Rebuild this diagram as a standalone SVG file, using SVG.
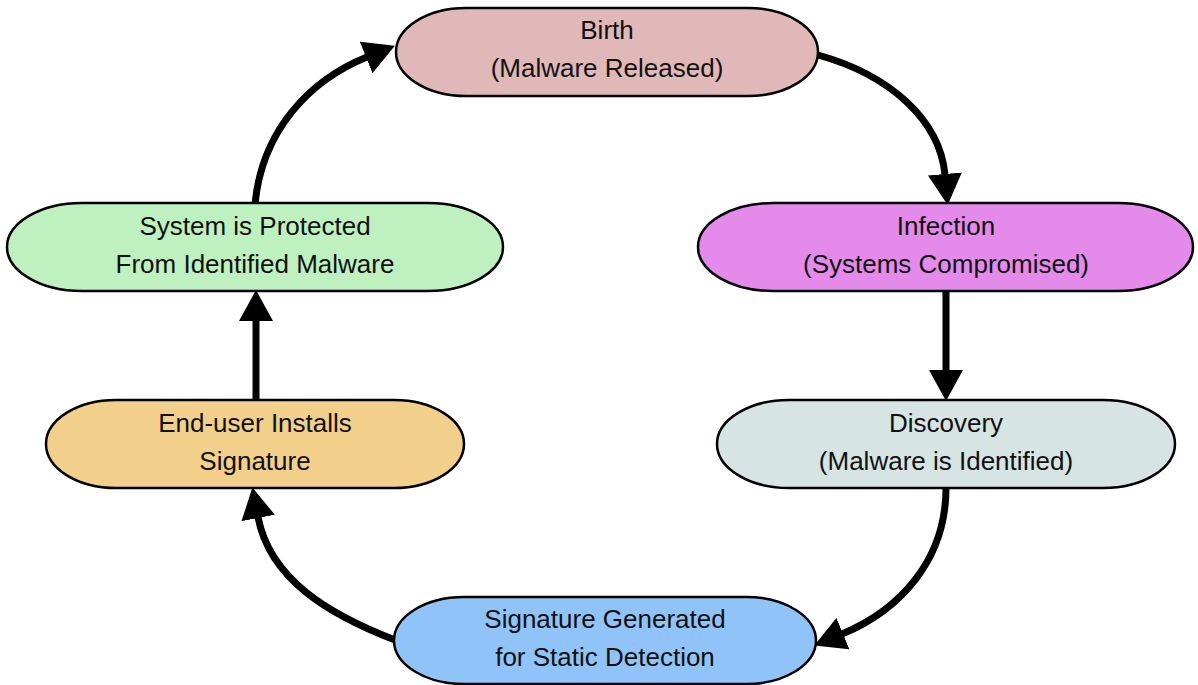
<svg xmlns="http://www.w3.org/2000/svg" width="1198" height="685" viewBox="0 0 1198 685">
<style>
.node{stroke:#000;stroke-width:2.5}
.lbl{font-family:"Liberation Sans",Arial,sans-serif;font-size:26px;fill:#111;text-anchor:middle}
.edge{fill:none;stroke:#000;stroke-width:7}
</style>
<defs>
<marker id="ah" markerUnits="userSpaceOnUse" markerWidth="34" markerHeight="36" refX="1" refY="17" orient="auto">
<path d="M0,0 L31,17 L0,34 z" fill="#000"/>
</marker>
</defs>
<rect width="1198" height="685" fill="#fff"/>
<g id="connectors">
<path class="edge" d="M818,55 C890,75 940,120 945,175" marker-end="url(#ah)"/>
<path class="edge" d="M946,292 L946,371" marker-end="url(#ah)"/>
<path class="edge" d="M946,488 C946,560 900,610 842,634" marker-end="url(#ah)"/>
<path class="edge" d="M395,640 C330,615 270,580 258,517" marker-end="url(#ah)"/>
<path class="edge" d="M256,400 L256,320" marker-end="url(#ah)"/>
<path class="edge" d="M255,204 C262,130 310,80 367,57" marker-end="url(#ah)"/>
</g>
<g id="birth">
<rect class="node" x="396" y="8" width="422" height="88" rx="70" ry="44" fill="#e0b8b8"/>
<text class="lbl" x="607" y="39">Birth</text>
<text class="lbl" x="607" y="77">(Malware Released)</text>
</g>
<g id="infection">
<rect class="node" x="698" y="203" width="495" height="88" rx="75" ry="44" fill="#e48aeb"/>
<text class="lbl" x="946" y="235">Infection</text>
<text class="lbl" x="946" y="273">(Systems Compromised)</text>
</g>
<g id="discovery">
<rect class="node" x="717" y="400" width="458" height="88" rx="72" ry="44" fill="#d6e4e4"/>
<text class="lbl" x="946" y="432">Discovery</text>
<text class="lbl" x="946" y="470">(Malware is Identified)</text>
</g>
<g id="signature">
<rect class="node" x="394" y="597" width="422" height="87" rx="70" ry="44" fill="#90c4f8"/>
<text class="lbl" x="605" y="628">Signature Generated</text>
<text class="lbl" x="605" y="666">for Static Detection</text>
</g>
<g id="enduser">
<rect class="node" x="46" y="400" width="418" height="88" rx="70" ry="44" fill="#f3cf8c"/>
<text class="lbl" x="255" y="432">End-user Installs</text>
<text class="lbl" x="255" y="470">Signature</text>
</g>
<g id="protected">
<rect class="node" x="7" y="203" width="496" height="88" rx="75" ry="44" fill="#bef0c0"/>
<text class="lbl" x="255" y="235">System is Protected</text>
<text class="lbl" x="255" y="273">From Identified Malware</text>
</g>
</svg>
